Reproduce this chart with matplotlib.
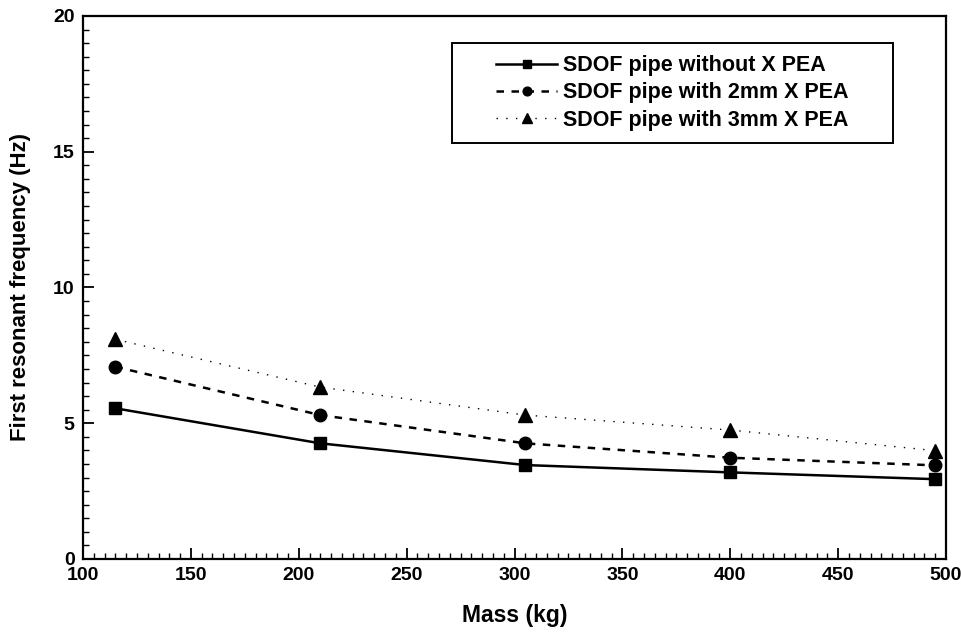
import numpy as np
import matplotlib
matplotlib.use("Agg")
import matplotlib.pyplot as plt
from matplotlib.ticker import MultipleLocator
from matplotlib.patches import Rectangle

plt.rcParams['font.family'] = ['Liberation Sans', 'DejaVu Sans']
plt.rcParams['font.weight'] = 'bold'

mass = [115, 210, 305, 400, 495]
freq_without = [5.55, 4.26, 3.46, 3.19, 2.94]
freq_2mm = [7.08, 5.30, 4.26, 3.73, 3.45]
freq_3mm = [8.09, 6.33, 5.30, 4.75, 3.99]
labels = ["SDOF pipe without X PEA",
          "SDOF pipe with 2mm X PEA",
          "SDOF pipe with 3mm X PEA"]

def main():
    fig = plt.figure(figsize=(9.62, 6.34), dpi=100)
    ax = fig.add_axes([0.0863, 0.1183, 0.8971, 0.8565])

    ax.plot(mass, freq_without, color='black', linestyle='-', linewidth=1.8,
            marker='s', markersize=9, label=labels[0])
    ax.plot(mass, freq_2mm, color='black', linestyle=(0, (3, 3)), linewidth=1.8,
            marker='o', markersize=9, label=labels[1])
    ax.plot(mass, freq_3mm, color='black', linestyle=(0, (1, 6)), linewidth=1.0,
            marker='^', markersize=10, label=labels[2])

    ax.set_xlim(100, 500)
    ax.set_ylim(0, 20)
    ax.xaxis.set_major_locator(MultipleLocator(50))
    ax.xaxis.set_minor_locator(MultipleLocator(5))
    ax.yaxis.set_major_locator(MultipleLocator(5))
    ax.yaxis.set_minor_locator(MultipleLocator(0.5))
    ax.tick_params(which='major', direction='in', length=8, width=1.3,
                   labelsize=14)
    ax.tick_params(axis='x', which='major', pad=6)
    ax.tick_params(axis='y', which='major', pad=6)
    ax.tick_params(which='minor', direction='in', length=4, width=1.0)
    for s in ax.spines.values():
        s.set_linewidth(1.6)

    ax.set_xlabel("Mass (kg)", fontsize=16.5, fontweight='bold', labelpad=14)
    ax.set_ylabel("First resonant frequency (Hz)", fontsize=16,
                  fontweight='bold', labelpad=16)

    # legend frame drawn separately (wide side padding in the original)
    x0, x1 = 0.4276, 0.9386
    y0, y1 = 0.7661, 0.9503
    ax.add_patch(Rectangle((x0, y0), x1 - x0, y1 - y0, transform=ax.transAxes,
                           facecolor='white', edgecolor='black',
                           linewidth=1.4, zorder=4))
    leg = ax.legend(loc='center', bbox_to_anchor=((x0 + x1) / 2, (y0 + y1) / 2),
                    borderaxespad=0, fontsize=15.5, handlelength=2.8,
                    handletextpad=0.3, markerscale=0.7, frameon=False,
                    borderpad=0.2, labelspacing=0.28)
    leg.set_zorder(5)
    for t in leg.get_texts():
        t.set_fontweight('bold')

    fig.savefig("out.png", dpi=100)

if __name__ == "__main__":
    main()
